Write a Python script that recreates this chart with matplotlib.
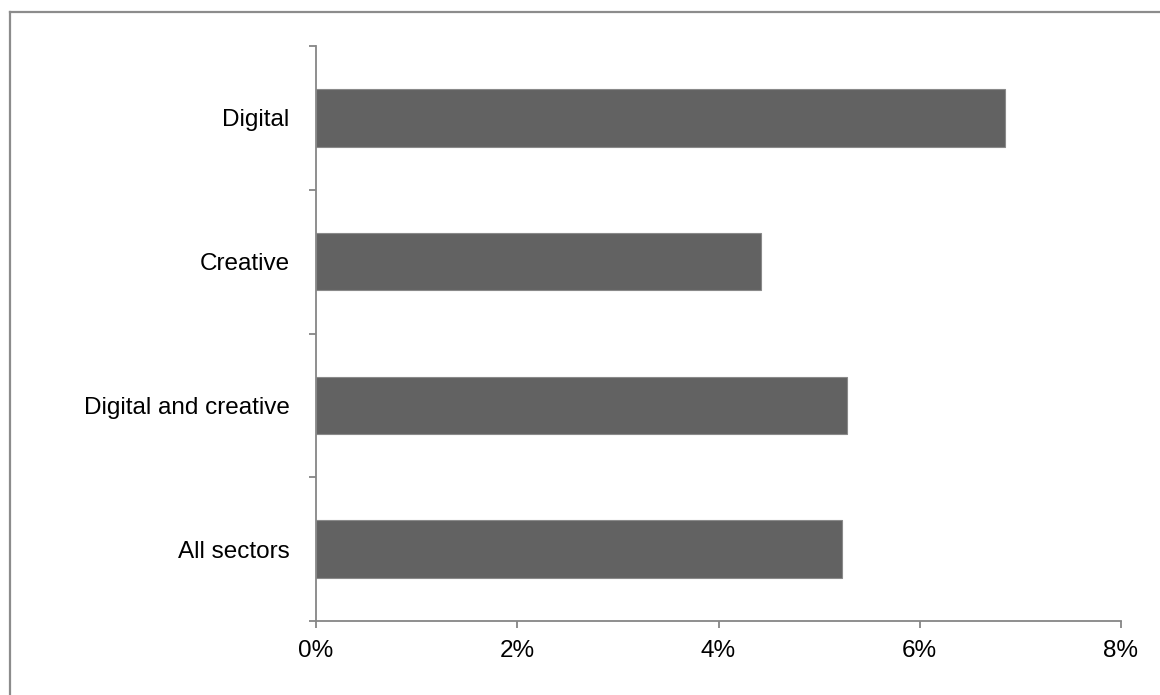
import matplotlib
matplotlib.use("Agg")
import matplotlib.pyplot as plt
from matplotlib.lines import Line2D
from matplotlib.ticker import FuncFormatter, FixedLocator

plt.rcParams['font.family'] = ['Liberation Sans', 'DejaVu Sans']

categories = ["All sectors", "Digital and creative", "Creative", "Digital"]
values = [5.23, 5.28, 4.42, 6.85]
xticks = [0, 2, 4, 6, 8]

fig = plt.figure(figsize=(11.6, 6.95), dpi=100)
ax = fig.add_axes([316/1160, 74/695, (1121-316)/1160, (621-46)/695])

ypos = list(range(len(categories)))
ax.barh(ypos, values, height=0.4, color="#626262", edgecolor="#8a8a8a", linewidth=0.8)

ax.set_xlim(0, 8)
ax.set_ylim(-0.5, len(categories) - 0.5)
ax.xaxis.set_major_locator(FixedLocator(xticks))
ax.xaxis.set_major_formatter(FuncFormatter(lambda v, p: f"{v:.0f}%"))

ax.yaxis.set_major_locator(FixedLocator([y - 0.5 for y in range(len(categories) + 1)]))
ax.yaxis.set_major_formatter(FuncFormatter(lambda v, p: ""))
ax.yaxis.set_minor_locator(FixedLocator(ypos))
ax.set_yticklabels(categories, minor=True)

for s in ["top", "right"]:
    ax.spines[s].set_visible(False)
for s in ["left", "bottom"]:
    ax.spines[s].set_color("#868686")
    ax.spines[s].set_linewidth(1.3)

ax.tick_params(axis="x", which="major", direction="out", length=5, width=1.3,
               color="#868686", labelsize=17.5, pad=9, labelcolor="black")
ax.tick_params(axis="y", which="major", direction="out", length=5, width=1.3,
               color="#868686")
ax.tick_params(axis="y", which="minor", length=0, labelsize=17.5, pad=19,
               labelcolor="black")

# outer chart border (only top and left visible)
fig.add_artist(Line2D([10/1160, 10/1160], [0, 1 - 12/695], transform=fig.transFigure,
                      color="#8c8c8c", linewidth=1.6))
fig.add_artist(Line2D([10/1160, 1], [1 - 12/695, 1 - 12/695], transform=fig.transFigure,
                      color="#8c8c8c", linewidth=1.6))

fig.savefig("out.png", dpi=100)
